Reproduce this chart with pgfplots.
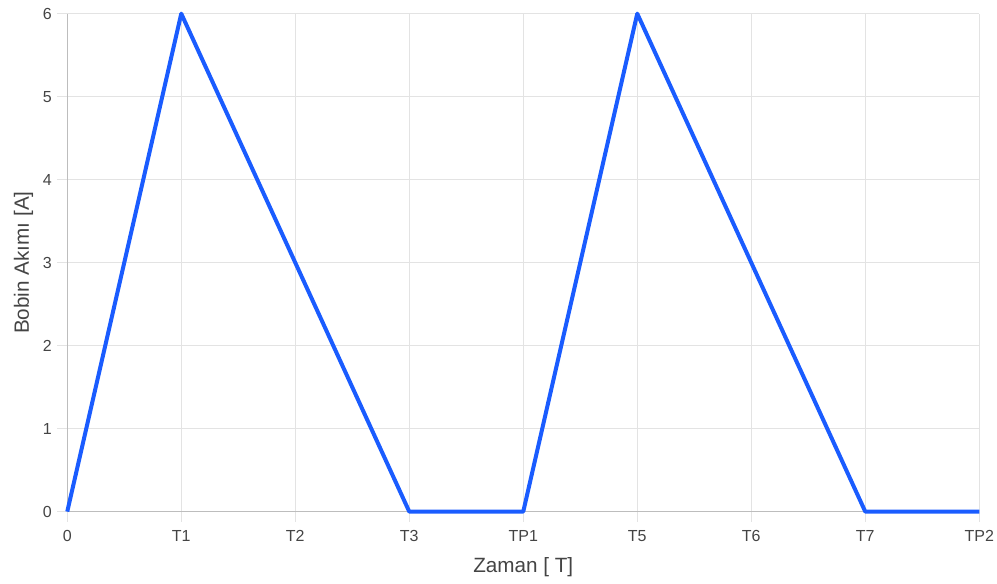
\documentclass[border=0pt]{standalone}
\usepackage{pgfplots}
\pgfplotsset{compat=1.18}
\usepackage{fontspec}
\setmainfont{Liberation Sans}
\definecolor{linecol}{HTML}{1A5CFF}
\definecolor{gridcol}{HTML}{E3E3E3}
\definecolor{axiscol}{HTML}{BDBDBD}
\definecolor{textcol}{HTML}{444444}
\begin{document}
\begin{tikzpicture}[x=0.75pt,y=0.75pt]
\useasboundingbox (0,0) rectangle (997,583);
\begin{axis}[
  at={(59,86)}, anchor=south west,
  scale only axis, width=684pt, height=373.5pt,
  xmin=0, xmax=8, ymin=0, ymax=6,
  xtick={0,...,8},
  xticklabels={0,T1,T2,T3,TP1,T5,T6,T7,TP2},
  ytick={0,...,6},
  /pgf/number format/assume math mode=true,
  tick label style={font=\fontsize{12pt}{14pt}\selectfont, text=textcol},
  grid=major,
  major grid style={gridcol, line width=0.75pt},
  axis x line*=bottom, axis y line*=left,
  axis line style={axiscol, line width=0.75pt, -},
  tick style={gridcol, line width=0.75pt},
  tick align=outside, major tick length=7.5pt,
  xticklabel style={yshift=-3pt},
  yticklabel style={xshift=-0.5pt},
  xlabel={Zaman [ T]}, ylabel={Bobin Akımı [A]},
  label style={font=\fontsize{15.5pt}{18pt}\selectfont, text=textcol},
  xlabel style={at={(axis description cs:0.5,-0.1124)}, anchor=center},
  ylabel style={at={(axis description cs:-0.048,0.5)}, anchor=center, rotate=0},
  clip=false,
]
\addplot[linecol, line width=3pt, line join=round, mark=none]
  coordinates {(0,0) (1,6) (2,3) (3,0) (4,0) (5,6) (6,3) (7,0) (8,0)};
\end{axis}
\end{tikzpicture}
\end{document}
